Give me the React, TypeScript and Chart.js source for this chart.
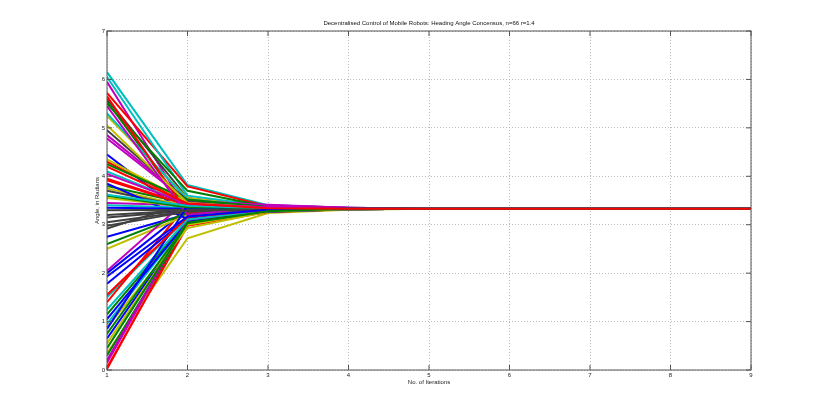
import React, { useEffect, useRef } from "react";
import { Chart, registerables } from "chart.js";

Chart.register(...registerables);

const chartTitle = "Decentralised Control of Mobile Robots: Heading Angle Concensus, n=66 r=1.4";
const xAxisTitle = "No. of Iterations";
const yAxisTitle = "Angle, in Radians";

const iterations = [1, 2, 3, 4, 5, 6, 7, 8, 9];
const xTickValues = [1, 2, 3, 4, 5, 6, 7, 8, 9];
const yTickValues = [0, 1, 2, 3, 4, 5, 6, 7];

// heading of each robot (66) at iteration 1..4; afterwards all at consensus
const iter1 = [
  2.0, 5.55, 0.02, 6.15, 3.45, 0.35, 3.05,
  4.45, 1.15, 3.95, 1.5, 5.95, 3.75, 5.6,
  0.65, 3.8, 5.72, 4.1, 0.15, 5.25, 2.92,
  2.75, 0.3, 1.4, 6.05, 4.85, 2.5, 3.7,
  1.78, 5.5, 4.3, 0.95, 2.05, 4.35, 3.2,
  3.85, 2.6, 0.05, 5.3, 4.78, 0.88, 4.95,
  1.05, 4.25, 5.65, 3.4, 0.2, 5.05, 2.98,
  3.35, 0.75, 3.92, 1.25, 5.45, 3.55, 3.3,
  0.85, 3.6, 1.55, 3.62, 4.05, 0.55, 3.15,
  1.93, 0.45, 4.2,
];
const iter2 = [
  3.32, 3.28, 3.05, 3.82, 3.4, 2.72, 3.28,
  3.18, 3.1, 3.41, 3.15, 3.3, 3.38, 3.55,
  3.02, 3.44, 3.79, 3.42, 3.08, 3.55, 3.45,
  3.22, 3.0, 3.42, 3.6, 3.5, 3.2, 3.36,
  3.14, 3.7, 3.45, 3.07, 3.52, 3.47, 3.3,
  3.12, 3.24, 2.98, 3.52, 3.48, 2.93, 3.5,
  3.06, 3.52, 3.25, 3.35, 3.1, 3.45, 3.27,
  3.33, 3.04, 3.4, 3.11, 3.2, 3.37, 3.31,
  3.38, 3.36, 3.16, 3.39, 3.43, 3.0, 3.29,
  3.17, 3.03, 3.44,
];
const iter3 = [
  3.3, 3.36, 3.28, 3.4, 3.35, 3.24, 3.32,
  3.36, 3.29, 3.34, 3.3, 3.39, 3.33, 3.37,
  3.28, 3.34, 3.38, 3.35, 3.29, 3.37, 3.31,
  3.31, 3.27, 3.3, 3.38, 3.4, 3.31, 3.33,
  3.3, 3.37, 3.35, 3.28, 3.33, 3.36, 3.32,
  3.34, 3.31, 3.26, 3.36, 3.41, 3.27, 3.36,
  3.29, 3.36, 3.37, 3.33, 3.3, 3.35, 3.32,
  3.33, 3.29, 3.34, 3.3, 3.38, 3.33, 3.33,
  3.27, 3.34, 3.31, 3.34, 3.36, 3.28, 3.32,
  3.31, 3.28, 3.34,
];
const iter4 = [
  3.33, 3.34, 3.32, 3.35, 3.34, 3.31, 3.33,
  3.34, 3.33, 3.33, 3.32, 3.35, 3.33, 3.34,
  3.32, 3.34, 3.34, 3.33, 3.32, 3.34, 3.33,
  3.33, 3.32, 3.33, 3.34, 3.35, 3.33, 3.33,
  3.33, 3.34, 3.34, 3.32, 3.33, 3.34, 3.33,
  3.33, 3.33, 3.32, 3.34, 3.35, 3.32, 3.34,
  3.33, 3.34, 3.34, 3.33, 3.33, 3.33, 3.33,
  3.33, 3.32, 3.33, 3.33, 3.34, 3.33, 3.33,
  3.32, 3.33, 3.33, 3.33, 3.34, 3.32, 3.33,
  3.33, 3.33, 3.33,
];
const consensusValue = 3.33;

const colorOrder = ["#0000ff", "#008000", "#ff0000", "#00bfbf", "#bf00bf", "#bfbf00", "#404040"];

const FONT = '"Liberation Sans", Arial, sans-serif';

const framePlugin = {
  id: "matlabFrame",
  afterDatasetsDraw(chart: any) {
    const { ctx, chartArea, scales } = chart;
    const { left, right, top, bottom } = chartArea;
    const xs = scales.x;
    const ys = scales.y;
    ctx.save();
    ctx.strokeStyle = "#555555";
    ctx.lineWidth = 1;
    ctx.strokeRect(left, top, right - left, bottom - top);
    const tl = 5;
    ctx.beginPath();
    xTickValues.forEach((v) => {
      const px = xs.getPixelForValue(v);
      ctx.moveTo(px, bottom);
      ctx.lineTo(px, bottom - tl);
      ctx.moveTo(px, top);
      ctx.lineTo(px, top + tl);
    });
    yTickValues.forEach((v) => {
      const py = ys.getPixelForValue(v);
      ctx.moveTo(left, py);
      ctx.lineTo(left + tl, py);
      ctx.moveTo(right, py);
      ctx.lineTo(right - tl, py);
    });
    ctx.stroke();
    ctx.restore();
  },
  afterDraw(chart: any) {
    const { ctx, chartArea } = chart;
    ctx.save();
    ctx.fillStyle = "#111111";
    ctx.font = `6px ${FONT}`;
    ctx.textAlign = "center";
    ctx.textBaseline = "middle";
    ctx.fillText(chartTitle, (chartArea.left + chartArea.right) / 2, 23.5);
    ctx.restore();
  },
};

export default function App() {
  const canvasRef = useRef<HTMLCanvasElement | null>(null);

  useEffect(() => {
    if (!canvasRef.current) return;
    const n = iter1.length;
    const datasets = iter1.map((_, i) => {
      const values = [iter1[i], iter2[i], iter3[i], iter4[i]];
      for (let k = values.length; k < iterations.length; k++) values.push(consensusValue);
      return {
        label: `Robot ${i + 1}`,
        data: iterations.map((it, k) => ({ x: it, y: values[k] })),
        borderColor: colorOrder[i % colorOrder.length],
        backgroundColor: colorOrder[i % colorOrder.length],
        borderWidth: 2,
        pointRadius: 0,
        fill: false,
        tension: 0,
        order: n - 1 - i,
      };
    });

    const chart = new Chart(canvasRef.current, {
      type: "line",
      data: { datasets },
      plugins: [framePlugin],
      options: {
        animation: false,
        responsive: true,
        maintainAspectRatio: false,
        layout: { padding: { left: 0, right: 79, top: 31, bottom: 0 } },
        plugins: {
          legend: { display: false },
          tooltip: { enabled: false },
          title: { display: false },
        },
        scales: {
          x: {
            type: "linear",
            min: 1,
            max: 9,
            afterFit: (scale: any) => {
              scale.height = 47;
            },
            afterBuildTicks: (scale: any) => {
              scale.ticks = xTickValues.map((v) => ({ value: v }));
            },
            ticks: {
              padding: 2,
              color: "#222222",
              font: { family: FONT, size: 6 },
              maxRotation: 0,
              autoSkip: false,
            },
            grid: { color: "#bdbdbd", lineWidth: 1, drawTicks: false },
            border: { display: false, dash: [1, 2] },
            title: {
              display: true,
              text: xAxisTitle,
              color: "#222222",
              font: { family: FONT, size: 6 },
              padding: { top: 0, bottom: 31.4 },
            },
          },
          y: {
            type: "linear",
            min: 0,
            max: 7,
            afterFit: (scale: any) => {
              scale.width = 107;
            },
            afterBuildTicks: (scale: any) => {
              scale.ticks = yTickValues.map((v) => ({ value: v }));
            },
            ticks: {
              padding: 2,
              color: "#222222",
              font: { family: FONT, size: 6 },
              autoSkip: false,
            },
            grid: { color: "#bdbdbd", lineWidth: 1, drawTicks: false },
            border: { display: false, dash: [1, 2] },
            title: {
              display: true,
              text: yAxisTitle,
              color: "#222222",
              font: { family: FONT, size: 6 },
              padding: { top: 93.4, bottom: 0 },
            },
          },
        },
      },
    } as any);

    return () => chart.destroy();
  }, []);

  return (
    <div style={{ position: "fixed", left: 0, top: 0, width: 830, height: 417, background: "#ffffff" }}>
      <canvas ref={canvasRef} />
    </div>
  );
}
